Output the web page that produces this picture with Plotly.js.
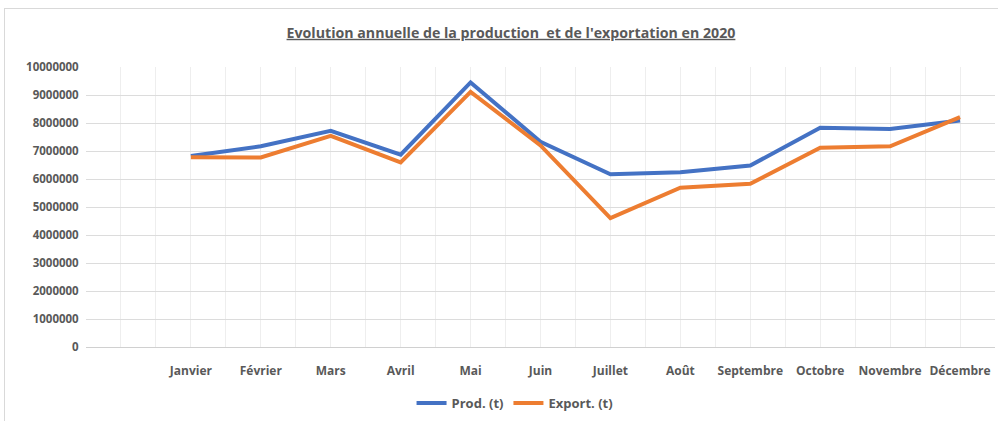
<!DOCTYPE html>
<html>
<head>
<meta charset="utf-8">
<script src="https://cdn.plot.ly/plotly-3.0.1.min.js"></script>
<style>
html,body{margin:0;padding:0;background:#fff;}
#wrap{position:relative;width:998px;height:421px;overflow:hidden;}
#chart{width:998px;height:421px;}
#frame{position:absolute;left:4px;top:8px;width:1000px;height:420px;border:1px solid #d9d9d9;pointer-events:none;}
</style>
</head>
<body>
<div id="wrap"><div id="chart"></div><div id="frame"></div></div>
<script>
const months = ["Janvier","Février","Mars","Avril","Mai","Juin","Juillet","Août","Septembre","Octobre","Novembre","Décembre"];
const monthIndex = [1,2,3,4,5,6,7,8,9,10,11,12];
const prod = [6820000,7170000,7720000,6870000,9450000,7330000,6170000,6240000,6480000,7830000,7790000,8090000];
const exportT = [6780000,6770000,7540000,6590000,9110000,7200000,4600000,5690000,5830000,7120000,7170000,8210000];
const seriesNames = ["Prod. (t)","Export. (t)"];
const yTicks = [0,1000000,2000000,3000000,4000000,5000000,6000000,7000000,8000000,9000000,10000000];

const font = "Open Sans, Liberation Sans, sans-serif";
const grey = "#595959";

const traces = [
  {x: monthIndex, y: prod, name: seriesNames[0], type: "scatter", mode: "lines",
   line: {color: "#4472C4", width: 4, shape: "linear"}},
  {x: monthIndex, y: exportT, name: seriesNames[1], type: "scatter", mode: "lines",
   line: {color: "#ED7D31", width: 4, shape: "linear"}}
];

const layout = {
  width: 998, height: 421,
  margin: {l: 86, r: 3, t: 67, b: 74},
  paper_bgcolor: "#ffffff", plot_bgcolor: "#ffffff",
  title: {text: "<u><b>Evolution annuelle de la production  et de l'exportation en 2020</b></u>",
          font: {family: font, size: 14.2, color: grey},
          x: 0.512, xanchor: "center", y: 0.922, yanchor: "middle", yref: "container"},
  xaxis: {
    type: "linear", range: [-0.5, 12.5],
    tickmode: "array", tickvals: monthIndex, ticktext: months,
    ticks: "outside", ticklen: 13, tickcolor: "rgba(0,0,0,0)",
    tickfont: {family: font, size: 12, color: grey, weight: "bold"},
    showgrid: true, gridcolor: "#eeeeee", gridwidth: 1,
    minor: {tickmode: "linear", tick0: 0, dtick: 0.5, showgrid: true, gridcolor: "#eeeeee", gridwidth: 1, ticks: ""},
    zeroline: false, showline: false, fixedrange: true
  },
  yaxis: {
    range: [0, 10000000], tickmode: "array", tickvals: yTicks,
    tickformat: "d",
    tickfont: {family: font, size: 11.5, color: grey, weight: "bold"},
    ticks: "outside", ticklen: 4, tickcolor: "rgba(0,0,0,0)",
    showgrid: true, gridcolor: "#dcdcdc", gridwidth: 1,
    zeroline: true, zerolinecolor: "#d0d0d0", zerolinewidth: 1,
    showline: false, fixedrange: true
  },
  showlegend: true,
  legend: {orientation: "h", x: 0.472, xanchor: "center", y: -0.2, yanchor: "middle",
           font: {family: font, size: 13, color: grey, weight: "bold"},
           itemwidth: 30, tracegroupgap: 0, bgcolor: "rgba(0,0,0,0)"}
};

Plotly.newPlot("chart", traces, layout, {displayModeBar: false, staticPlot: true});
</script>
</body>
</html>
